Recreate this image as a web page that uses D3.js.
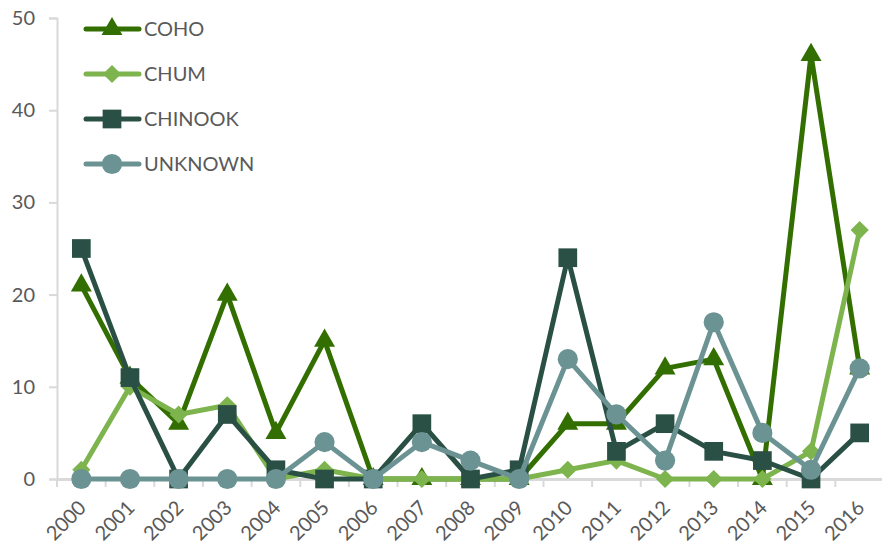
<!DOCTYPE html>
<html><head><meta charset="utf-8">
<script src="https://cdn.jsdelivr.net/npm/d3@7"></script>
<style>body{margin:0;background:#fff;} text{font-family:Lato,"Open Sans",sans-serif;fill:#595959;}</style>
</head><body>
<svg id="c" width="882" height="550"></svg>
<script>
const years = ["2000","2001","2002","2003","2004","2005","2006","2007","2008","2009","2010","2011","2012","2013","2014","2015","2016"];
const coho    = [21,11,6,20,5,15,0,0,0,0,6,6,12,13,0,46,12];
const chum    = [1,10,7,8,0,1,0,0,0,0,1,2,0,0,0,3,27];
const chinook = [25,11,0,7,1,0,0,6,0,1,24,3,6,3,2,0,5];
const unknown = [0,0,0,0,0,4,0,4,2,0,13,7,2,17,5,1,12];
const yTicks = [0,10,20,30,40,50];

const series = [
  {name:"COHO", values:coho, color:"#336F00", sym:d3.symbolTriangle, size:190},
  {name:"CHUM", values:chum, color:"#7DB44E", sym:d3.symbolDiamond2, size:210},
  {name:"CHINOOK", values:chinook, color:"#2A5045", sym:d3.symbolSquare, size:350},
  {name:"UNKNOWN", values:unknown, color:"#6C9393", sym:d3.symbolCircle, size:320}
];

const svg = d3.select("#c");
const mL = 57, mR = 884, mT = 18, mB = 479;
const x = d3.scaleBand().domain(years).range([mL, mR]);
const y = d3.scaleLinear().domain([0,50]).range([mB, mT]);

// y axis
const ya = svg.append("g").attr("transform",`translate(${mL},0)`)
  .call(d3.axisLeft(y).tickValues(yTicks).tickSize(8).tickPadding(14));
ya.select(".domain").attr("stroke","#D9D9D9").attr("stroke-width",2);
ya.selectAll(".tick line").attr("stroke","#D9D9D9").attr("stroke-width",2);
ya.selectAll("text").style("font-size","20px").attr("fill","#595959");

// x axis
const xa = svg.append("g").attr("transform",`translate(0,${mB})`)
  .call(d3.axisBottom(x).tickSize(0));
xa.select(".domain").attr("stroke","#D9D9D9").attr("stroke-width",3);
xa.selectAll(".tick line").remove();
const bounds = years.map(v=>x(v)).concat([x(years[years.length-1])+x.bandwidth()]);
xa.selectAll(".sep").data(bounds).enter().append("line")
  .attr("x1",d=>d).attr("x2",d=>d).attr("y1",0).attr("y2",8)
  .attr("stroke","#D9D9D9").attr("stroke-width",2);
xa.selectAll(".tick text")
  .style("font-size","20px").attr("fill","#595959")
  .attr("text-anchor","end").attr("dy",null).attr("y",0)
  .attr("transform","translate(6,30) rotate(-45)");

// lines
const line = d3.line().x((d,i)=>x(years[i])+x.bandwidth()/2).y(d=>y(d));
series.forEach(s=>{
  const g = svg.append("g");
  g.append("path").datum(s.values).attr("d",line)
    .attr("fill","none").attr("stroke",s.color).attr("stroke-width",5).attr("stroke-linejoin","round");
  g.selectAll("path.m").data(s.values).enter().append("path").attr("class","m")
    .attr("d",d3.symbol().type(s.sym).size(s.size))
    .attr("transform",(d,i)=>`translate(${x(years[i])+x.bandwidth()/2},${y(d)})`)
    .attr("fill",s.color);
});

// legend
const lg = svg.append("g");
series.forEach((s,i)=>{
  const yy = 29 + i*45;
  lg.append("line").attr("x1",86).attr("x2",139).attr("y1",yy).attr("y2",yy)
    .attr("stroke",s.color).attr("stroke-width",5).attr("stroke-linecap","round");
  lg.append("path").attr("d",d3.symbol().type(s.sym).size(s.size))
    .attr("transform",`translate(112,${yy})`).attr("fill",s.color);
  lg.append("text").attr("x",144).attr("y",yy).attr("dy","0.35em")
    .style("font-size","20px").text(s.name);
});
</script>
</body></html>
